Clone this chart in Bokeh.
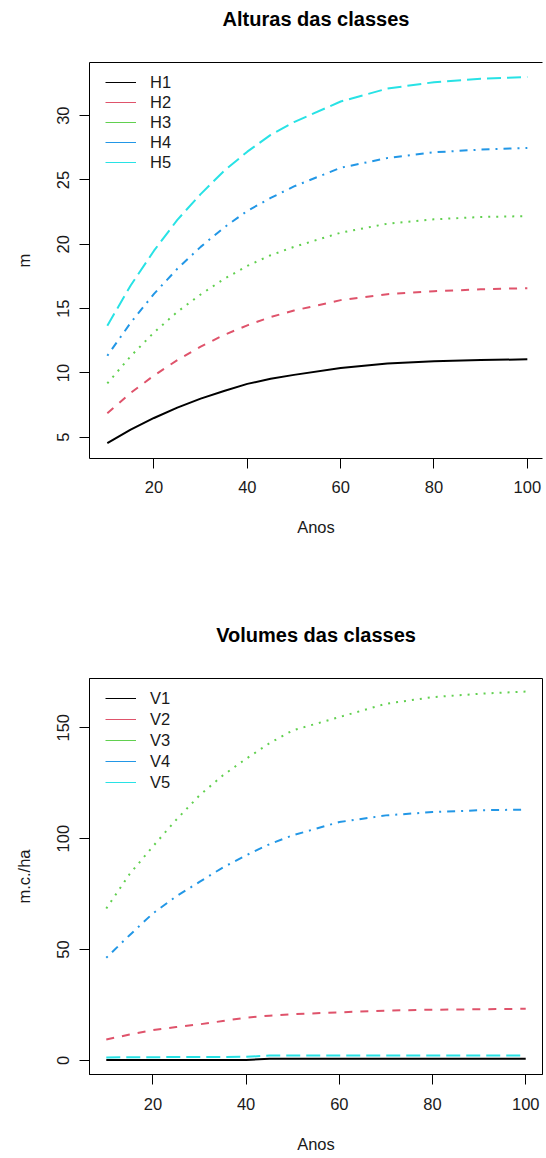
from bokeh.plotting import figure
from bokeh.models import Range1d, FixedTicker, LinearAxis, Legend, LegendItem
from bokeh.layouts import column
from bokeh.embed import file_html
from bokeh.resources import INLINE

anos = [10, 15, 20, 25, 30, 35, 40, 45, 50, 60, 70, 80, 90, 100]

H1 = [4.54, 5.6, 6.5, 7.3, 8.0, 8.6, 9.15, 9.55, 9.85, 10.39, 10.74, 10.9, 11.0, 11.06]
H2 = [6.87, 8.45, 9.8, 11.0, 12.05, 12.95, 13.7, 14.35, 14.85, 15.66, 16.12, 16.35, 16.5, 16.59]
H3 = [9.19, 11.3, 13.15, 14.75, 16.1, 17.3, 18.32, 19.15, 19.8, 20.9, 21.6, 21.94, 22.12, 22.19]
H4 = [11.34, 13.9, 16.15, 18.1, 19.8, 21.3, 22.6, 23.6, 24.5, 25.95, 26.7, 27.15, 27.36, 27.49]
H5 = [13.67, 16.8, 19.5, 21.9, 23.9, 25.7, 27.2, 28.5, 29.5, 31.1, 32.1, 32.6, 32.87, 33.0]

V1 = [0.2, 0.2, 0.2, 0.22, 0.24, 0.26, 0.28, 0.75, 0.77, 0.78, 0.79, 0.8, 0.8, 0.8]
V2 = [9.5, 11.7, 13.7, 15.1, 16.3, 17.8, 19.3, 20.2, 20.9, 21.7, 22.5, 22.9, 23.1, 23.3]
V3 = [68.5, 84.0, 96.5, 108.5, 119.5, 128.5, 136.0, 143.0, 148.8, 154.8, 160.8, 163.8, 165.3, 166.3]
V4 = [46.3, 56.5, 66.3, 74.0, 80.5, 87.0, 92.5, 97.5, 101.5, 107.5, 110.5, 112.0, 112.8, 113.1]
V5 = [1.4, 1.45, 1.5, 1.55, 1.6, 1.6, 1.65, 2.2, 2.25, 2.3, 2.3, 2.3, 2.3, 2.3]

nomes_h = ["H1", "H2", "H3", "H4", "H5"]
nomes_v = ["V1", "V2", "V3", "V4", "V5"]
x_ticks = [20, 40, 60, 80, 100]
y_ticks_h = [5, 10, 15, 20, 25, 30]
y_ticks_v = [0, 50, 100, 150]

cores = ["black", "#DF536B", "#61D04F", "#2297E6", "#28E2E5"]
tracos = ["solid", "8 8", "2 6", "2 6 8 6", "14 6"]

FONT = "Liberation Sans"
TXT = "#1a1a1a"


def style_axis(ax, ticks, label, tick_standoff, label_standoff):
    ax.ticker = FixedTicker(ticks=ticks)
    ax.axis_label = label
    ax.major_tick_out = 10
    ax.major_tick_in = 0
    ax.minor_tick_out = 0
    ax.minor_tick_in = 0
    ax.major_tick_line_color = "black"
    ax.axis_line_color = "black"
    ax.axis_line_width = 1
    ax.major_label_text_font = FONT
    ax.major_label_text_font_size = "16.5px"
    ax.major_label_text_color = TXT
    ax.axis_label_text_font = FONT
    ax.axis_label_text_font_size = "16.5px"
    ax.axis_label_text_font_style = "normal"
    ax.axis_label_text_color = TXT
    ax.major_label_standoff = tick_standoff
    ax.axis_label_standoff = label_standoff


def add_series(p, series, nomes, loc, spacing):
    items = []
    for ys, nome, cor, dash in zip(series, nomes, cores, tracos):
        p.line(anos, ys, line_color=cor, line_width=2, line_dash=dash)
        r = p.line(anos[:1], ys[:1], line_color=cor, line_width=1)
        items.append(LegendItem(label=nome, renderers=[r]))
    leg = Legend(items=items, location=loc, padding=0, margin=0, spacing=spacing,
                 border_line_color=None, background_fill_alpha=0,
                 glyph_width=31, glyph_height=20, label_height=20,
                 label_standoff=14, label_text_font=FONT,
                 label_text_font_size="16.5px", label_text_color=TXT)
    p.add_layout(leg)


def base_fig(title, w, h, xr, yr, bl, br, bt, bb, top_line):
    p = figure(width=w, height=h, output_backend="svg", toolbar_location=None,
               x_range=Range1d(*xr), y_range=Range1d(*yr),
               min_border_left=bl, min_border_right=br, min_border_top=bt,
               min_border_bottom=bb)
    p.title.text = title
    p.title.align = "center"
    p.title.text_font = FONT
    p.title.text_font_size = "20px"
    p.title.text_font_style = "bold"
    p.title.text_color = "black"
    p.title.standoff = 10
    p.xgrid.visible = False
    p.ygrid.visible = False
    # spacer axis above the frame (no ticks, blank label): draws the top border
    # line and lifts the title to where R places it
    top_axis = LinearAxis(ticker=FixedTicker(ticks=[]), major_tick_out=0, major_tick_in=0,
                          minor_tick_out=0, minor_tick_in=0, major_label_standoff=0,
                          major_label_text_font_size="0px",
                          axis_label=" ", axis_label_standoff=24,
                          axis_label_text_font_size="1px",
                          axis_line_color="black" if top_line else None)
    p.add_layout(top_axis, "above")
    return p


# ---------- top: alturas ----------
p1 = base_fig("Alturas das classes", 546, 578, (6.18, 103.25), (3.35, 34.13),
              89, 0, 61, 120, True)
p1.outline_line_color = None
style_axis(p1.below[0], x_ticks, "Anos", 12, 22)
style_axis(p1.left[0], y_ticks_h, "m", 10, 22)
p1.left[0].major_label_orientation = "vertical"
add_series(p1, [H1, H2, H3, H4, H5], nomes_h, (16, 286), 0)

# ---------- bottom: volumes ----------
p2 = base_fig("Volumes das classes", 546, 580, (6.4, 103.6), (-6.31, 172.2),
              83, 4, 100, 84, False)
p2.outline_line_color = "black"
p2.outline_line_width = 1
style_axis(p2.below[0], x_ticks, "Anos", 13, 22)
style_axis(p2.left[0], y_ticks_v, "m.c./ha", 10, 22)
p2.left[0].major_label_orientation = "vertical"
add_series(p2, [V1, V2, V3, V4, V5], nomes_v, (16, 282), 1)

layout = column(p1, p2, spacing=0)
open("out.html", "w").write(file_html(layout, INLINE))
